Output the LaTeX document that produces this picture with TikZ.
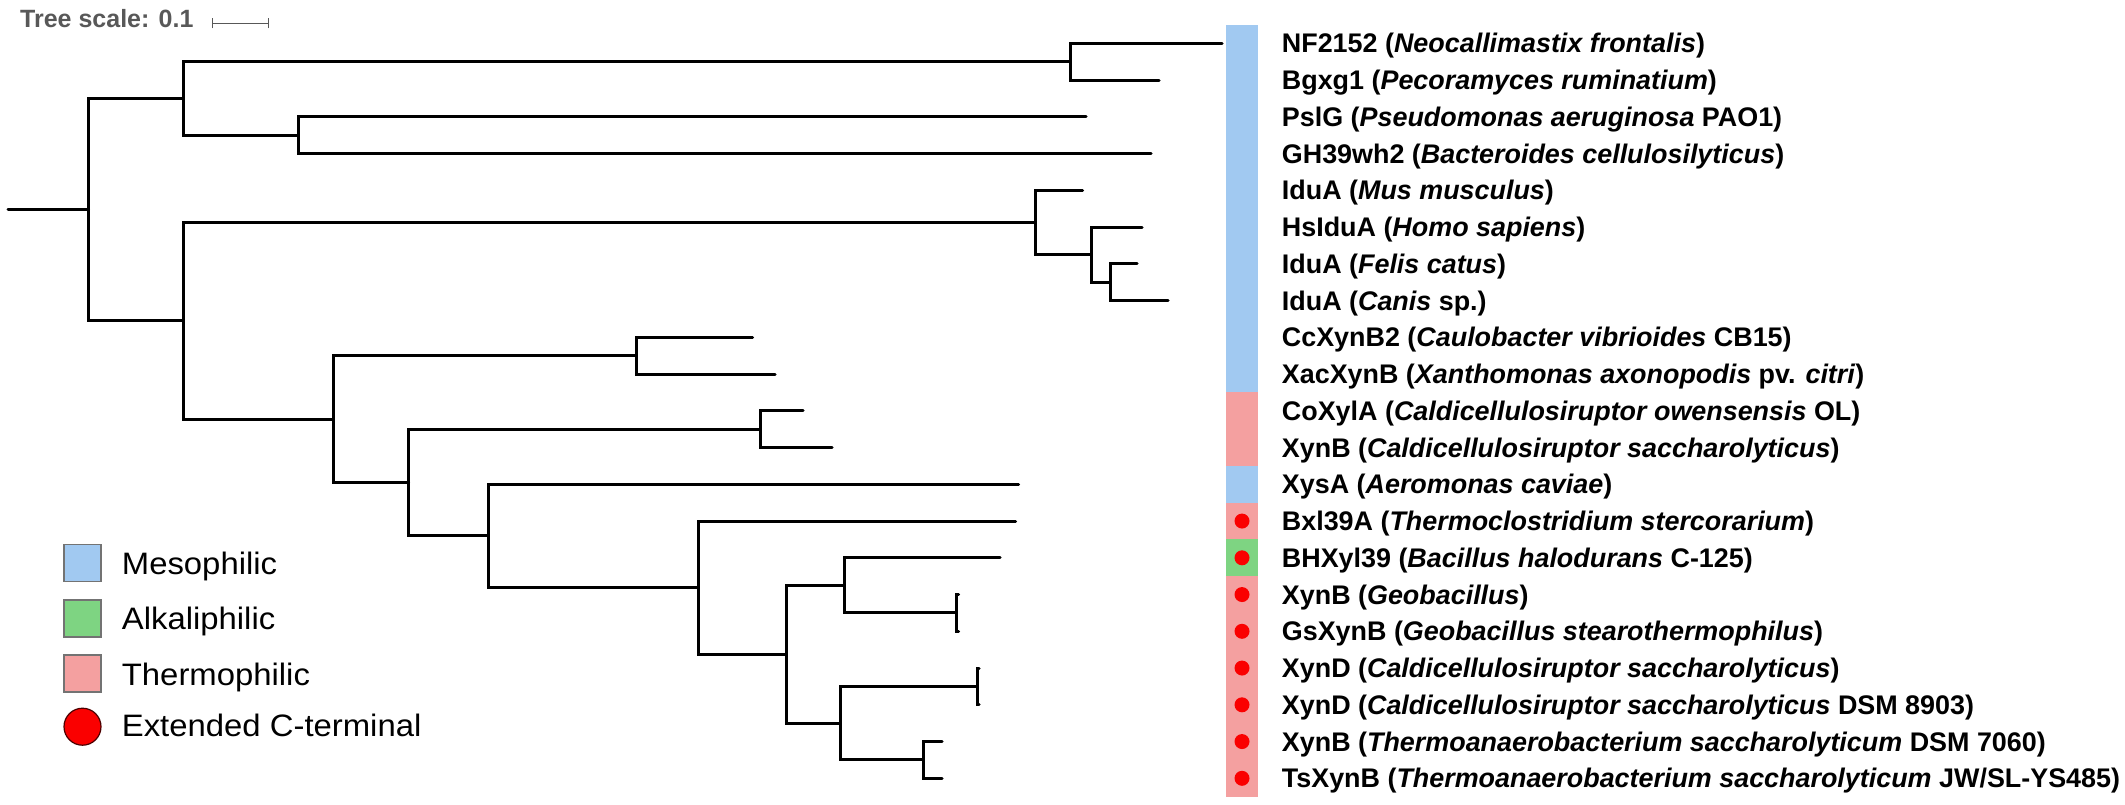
\documentclass[tikz,border=0pt]{standalone}
\usepackage{fontspec}
\setmainfont{Liberation Sans}
\newfontfamily\legendfont{Liberation Sans}[FakeStretch=1.06]
\definecolor{meso}{RGB}{161,201,241}
\definecolor{thermo}{RGB}{244,160,160}
\definecolor{alka}{RGB}{126,212,130}
\definecolor{dotred}{RGB}{250,0,0}
\definecolor{scalegray}{RGB}{88,88,88}
\begin{document}
\begin{tikzpicture}[x=1pt,y=-1pt,
  branch/.style={line width=3pt, line cap=round, line join=miter},
  leaflabel/.style={anchor=base west, inner sep=0pt, font=\fontsize{26.9pt}{30pt}\selectfont\bfseries},
  legtext/.style={anchor=base west, inner sep=0pt, font=\legendfont\fontsize{31pt}{34pt}\selectfont},
  legsq/.style={draw=black!55, line width=1.5pt, minimum size=37pt, inner sep=0pt},
  cdot/.style={circle, fill=dotred, minimum size=15pt, inner sep=0pt}]
\useasboundingbox (0,0) rectangle (2125,805);
% ---- tree scale
\node[anchor=base west, inner sep=0pt, text=scalegray, font=\fontsize{25pt}{28pt}\selectfont\bfseries] (ts) at (20,27.3) {Tree scale: 0.1};
\coordinate (sb1) at (212.3,23.3);
\coordinate (sb2) at (268.3,23.3);
\draw[scalegray, line width=1.5pt] (sb1) -- (sb2);
\draw[scalegray, line width=1.5pt] ([yshift=-5pt]sb1) -- ([yshift=5pt]sb1);
\draw[scalegray, line width=1.5pt] ([yshift=-5pt]sb2) -- ([yshift=5pt]sb2);
% ---- internal nodes
\coordinate (r0) at (8,209.61);
\coordinate (nRoot) at (88.5,209.61);
\coordinate (nA) at (183,98.425);
\coordinate (nNF) at (1070,61.675);
\coordinate (nPs) at (298,135.175);
\coordinate (nB) at (183,320.79);
\coordinate (nIdu) at (1035,222.456);
\coordinate (nI2) at (1091,254.61);
\coordinate (nI3) at (1110,282.175);
\coordinate (nC) at (333,419.13);
\coordinate (nCau) at (636,355.675);
\coordinate (nD) at (408.5,482.58);
\coordinate (nCal) at (760,429.175);
\coordinate (nE) at (488,535.98);
\coordinate (nF) at (698,587.66);
\coordinate (nG) at (786,654.27);
\coordinate (nH) at (844,585.36);
\coordinate (nGeo) at (956,612.925);
\coordinate (nI) at (840,723.175);
\coordinate (nCs) at (977,686.425);
\coordinate (nTs) at (923,759.925);
% ---- tips
\coordinate (t1) at (1222,43.3);
\coordinate (t2) at (1159,80.05);
\coordinate (t3) at (1086,116.8);
\coordinate (t4) at (1151,153.55);
\coordinate (t5) at (1082.5,190.3);
\coordinate (t6) at (1142,227.05);
\coordinate (t7) at (1137,263.8);
\coordinate (t8) at (1168,300.55);
\coordinate (t9) at (752.6,337.3);
\coordinate (t10) at (775,374.05);
\coordinate (t11) at (803,410.8);
\coordinate (t12) at (832,447.55);
\coordinate (t13) at (1018.5,484.3);
\coordinate (t14) at (1015.5,521.05);
\coordinate (t15) at (1000,557.8);
\coordinate (t16) at (958.5,594.55);
\coordinate (t17) at (958.5,631.3);
\coordinate (t18) at (979,668.05);
\coordinate (t19) at (979,704.8);
\coordinate (t20) at (942,741.55);
\coordinate (t21) at (942,778.3);
% ---- branches
\draw[branch] (r0) -- (nRoot);
\draw[branch] (nRoot) |- (nA);
\draw[branch] (nRoot) |- (nB);
\draw[branch] (nA) |- (nNF);
\draw[branch] (nA) |- (nPs);
\draw[branch] (nNF) |- (t1);
\draw[branch] (nNF) |- (t2);
\draw[branch] (nPs) |- (t3);
\draw[branch] (nPs) |- (t4);
\draw[branch] (nB) |- (nIdu);
\draw[branch] (nB) |- (nC);
\draw[branch] (nIdu) |- (t5);
\draw[branch] (nIdu) |- (nI2);
\draw[branch] (nI2) |- (t6);
\draw[branch] (nI2) |- (nI3);
\draw[branch] (nI3) |- (t7);
\draw[branch] (nI3) |- (t8);
\draw[branch] (nC) |- (nCau);
\draw[branch] (nC) |- (nD);
\draw[branch] (nCau) |- (t9);
\draw[branch] (nCau) |- (t10);
\draw[branch] (nD) |- (nCal);
\draw[branch] (nD) |- (nE);
\draw[branch] (nCal) |- (t11);
\draw[branch] (nCal) |- (t12);
\draw[branch] (nE) |- (t13);
\draw[branch] (nE) |- (nF);
\draw[branch] (nF) |- (t14);
\draw[branch] (nF) |- (nG);
\draw[branch] (nG) |- (nH);
\draw[branch] (nG) |- (nI);
\draw[branch] (nH) |- (t15);
\draw[branch] (nH) |- (nGeo);
\draw[branch] (nGeo) |- (t16);
\draw[branch] (nGeo) |- (t17);
\draw[branch] (nI) |- (nCs);
\draw[branch] (nI) |- (nTs);
\draw[branch] (nCs) |- (t18);
\draw[branch] (nCs) |- (t19);
\draw[branch] (nTs) |- (t20);
\draw[branch] (nTs) |- (t21);
% ---- colour strip
\fill[meso] (1226,24.925) rectangle (1258,392.425);
\fill[thermo] (1226,392.425) rectangle (1258,465.925);
\fill[meso] (1226,465.925) rectangle (1258,502.675);
\fill[thermo] (1226,502.675) rectangle (1258,539.425);
\fill[alka] (1226,539.425) rectangle (1258,576.175);
\fill[thermo] (1226,576.175) rectangle (1258,796.675);
\node[cdot] (d14) at (1242,521.05) {};
\node[cdot] (d15) at (1242,557.8) {};
\node[cdot] (d16) at (1242,594.55) {};
\node[cdot] (d17) at (1242,631.3) {};
\node[cdot] (d18) at (1242,668.05) {};
\node[cdot] (d19) at (1242,704.8) {};
\node[cdot] (d20) at (1242,741.55) {};
\node[cdot] (d21) at (1242,778.3) {};
% ---- labels
\node[leaflabel] (l1) at (1281.7,52.8) {NF2152 (\textit{Neocallimastix frontalis})};
\node[leaflabel] (l2) at (1281.7,89.55) {Bgxg1 (\textit{Pecoramyces ruminatium})};
\node[leaflabel] (l3) at (1281.7,126.3) {PslG (\textit{Pseudomonas aeruginosa} PAO1)};
\node[leaflabel] (l4) at (1281.7,163.05) {GH39wh2 (\textit{Bacteroides cellulosilyticus})};
\node[leaflabel] (l5) at (1281.7,199.8) {IduA (\textit{Mus musculus})};
\node[leaflabel] (l6) at (1281.7,236.55) {HsIduA (\textit{Homo sapiens})};
\node[leaflabel] (l7) at (1281.7,273.3) {IduA (\textit{Felis catus})};
\node[leaflabel] (l8) at (1281.7,310.05) {IduA (\textit{Canis} sp.)};
\node[leaflabel] (l9) at (1281.7,346.8) {CcXynB2 (\textit{Caulobacter vibrioides} CB15)};
\node[leaflabel] (l10) at (1281.7,383.55) {XacXynB (\textit{Xanthomonas axonopodis} pv. \textit{citri})};
\node[leaflabel] (l11) at (1281.7,420.3) {CoXylA (\textit{Caldicellulosiruptor owensensis} OL)};
\node[leaflabel] (l12) at (1281.7,457.05) {XynB (\textit{Caldicellulosiruptor saccharolyticus})};
\node[leaflabel] (l13) at (1281.7,493.8) {XysA (\textit{Aeromonas caviae})};
\node[leaflabel] (l14) at (1281.7,530.55) {Bxl39A (\textit{Thermoclostridium stercorarium})};
\node[leaflabel] (l15) at (1281.7,567.3) {BHXyl39 (\textit{Bacillus halodurans} C-125)};
\node[leaflabel] (l16) at (1281.7,604.05) {XynB (\textit{Geobacillus})};
\node[leaflabel] (l17) at (1281.7,640.8) {GsXynB (\textit{Geobacillus stearothermophilus})};
\node[leaflabel] (l18) at (1281.7,677.55) {XynD (\textit{Caldicellulosiruptor saccharolyticus})};
\node[leaflabel] (l19) at (1281.7,714.3) {XynD (\textit{Caldicellulosiruptor saccharolyticus} DSM 8903)};
\node[leaflabel] (l20) at (1281.7,751.05) {XynB (\textit{Thermoanaerobacterium saccharolyticum} DSM 7060)};
\node[leaflabel] (l21) at (1281.7,787.8) {TsXynB (\textit{Thermoanaerobacterium saccharolyticum} JW/SL-YS485)};
% ---- legend
\node[legsq, fill=meso] (km) at (82.5,563) {};
\node[legtext] (kmt) at (121.7,574.3) {Mesophilic};
\node[legsq, fill=alka] (ka) at (82.5,618.3) {};
\node[legtext] (kat) at (121.7,629.5) {Alkaliphilic};
\node[legsq, fill=thermo] (kt) at (82.5,673.7) {};
\node[legtext] (ktt) at (121.7,685) {Thermophilic};
\node[circle, draw=black!70!red, line width=1.2pt, fill=dotred, minimum size=37pt, inner sep=0pt] (kc) at (82.5,726.7) {};
\node[legtext] (kct) at (121.7,736.7) {Extended C-terminal};
\end{tikzpicture}
\end{document}
